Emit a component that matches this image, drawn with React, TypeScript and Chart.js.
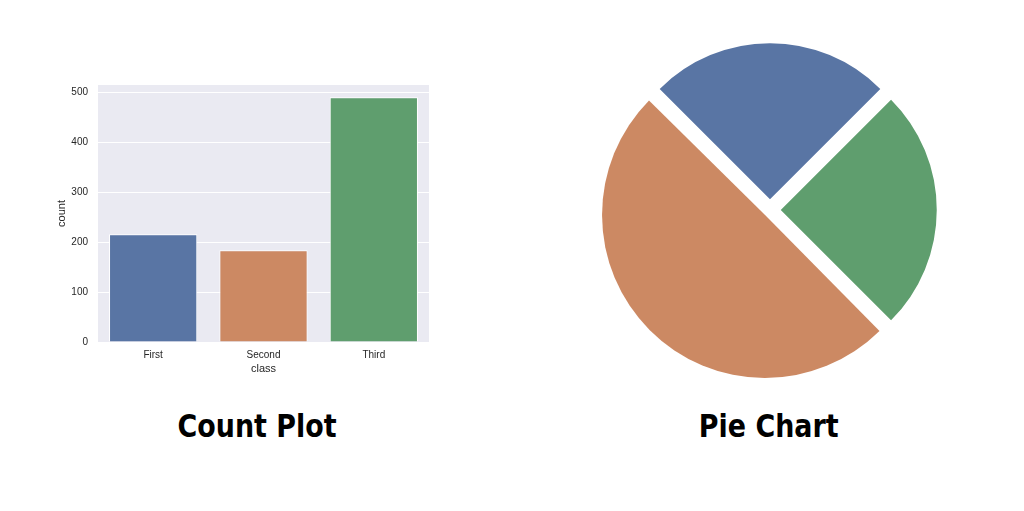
import React, { useEffect, useRef } from "react";
import { Chart, registerables } from "chart.js";

Chart.register(...registerables);

// ---- data ----
const classLabels = ["First", "Second", "Third"];
const classCounts = [216, 184, 491];
const yTickValues = [0, 100, 200, 300, 400, 500];
const yMax = 515.5;

const pieLabels = ["First", "Third", "Second"];
const pieValues = [25, 25, 50];
const pieOffsets = [43, 43, 28];

// ---- styles ----
const BLUE = "#5975a4";
const ORANGE = "#cc8963";
const GREEN = "#5f9e6e";
const barColors = [BLUE, ORANGE, GREEN];
const pieColors = [BLUE, GREEN, ORANGE];
const TEXT = "#262626";
const FONT = "'Liberation Sans', Arial, Helvetica, sans-serif";

const plotBg = {
  id: "plotBg",
  beforeDraw(chart: any) {
    const { ctx, chartArea: a } = chart;
    ctx.save();
    ctx.fillStyle = "#eaeaf2";
    ctx.fillRect(a.left, a.top, a.right - a.left, a.bottom - a.top);
    ctx.restore();
  },
};

function CountPlot() {
  const ref = useRef<HTMLCanvasElement | null>(null);
  useEffect(() => {
    const chart = new Chart(ref.current as HTMLCanvasElement, {
      type: "bar",
      data: {
        labels: classLabels,
        datasets: [
          {
            data: classCounts,
            backgroundColor: barColors,
            borderColor: "#ffffff",
            borderWidth: 1,
            barPercentage: 0.8,
            categoryPercentage: 1,
          },
        ],
      },
      options: {
        animation: false,
        responsive: false,
        maintainAspectRatio: false,
        layout: { padding: { left: 40, top: 85, right: 83, bottom: 18 } },
        plugins: { legend: { display: false }, tooltip: { enabled: false } },
        scales: {
          x: {
            grid: { display: false, drawTicks: false },
            border: { display: false },
            ticks: { color: TEXT, font: { size: 10, family: FONT }, padding: 7 },
            title: {
              display: true,
              text: "class",
              color: TEXT,
              font: { size: 11, family: FONT },
              padding: { top: 0, bottom: 6 },
            },
            afterFit(s: any) {
              s.height = 40;
            },
          },
          y: {
            min: 0,
            max: yMax,
            afterBuildTicks(s: any) {
              s.ticks = yTickValues.map((v) => ({ value: v }));
            },
            grid: { color: "#ffffff", lineWidth: 1, drawTicks: false },
            border: { display: false },
            ticks: { color: TEXT, font: { size: 10, family: FONT }, padding: 10 },
            title: {
              display: true,
              text: "count",
              color: TEXT,
              font: { size: 11, family: FONT },
              padding: { top: 15, bottom: 0 },
            },
            afterFit(s: any) {
              s.width = 58;
            },
          },
        },
      },
      plugins: [plotBg],
    } as any);
    return () => chart.destroy();
  }, []);
  return (
    <canvas
      ref={ref}
      width={512}
      height={400}
      style={{ position: "absolute", left: 0, top: 0, width: 512, height: 400 }}
    />
  );
}

function PieChart() {
  const ref = useRef<HTMLCanvasElement | null>(null);
  useEffect(() => {
    const chart = new Chart(ref.current as HTMLCanvasElement, {
      type: "pie",
      data: {
        labels: pieLabels,
        datasets: [
          {
            data: pieValues,
            backgroundColor: pieColors,
            borderColor: pieColors,
            borderWidth: 0,
            offset: pieOffsets,
          },
        ],
      },
      options: {
        animation: false,
        responsive: false,
        maintainAspectRatio: false,
        radius: 156,
        rotation: -45,
        layout: { padding: 0 },
        plugins: { legend: { display: false }, tooltip: { enabled: false } },
      },
    } as any);
    return () => chart.destroy();
  }, []);
  return (
    <canvas
      ref={ref}
      width={360}
      height={360}
      style={{ position: "absolute", left: 590, top: 30, width: 360, height: 360 }}
    />
  );
}

const titleStyle: React.CSSProperties = {
  position: "absolute",
  width: 300,
  textAlign: "center",
  fontFamily: "'DejaVu Sans Condensed', 'DejaVu Sans', sans-serif",
  fontStretch: "condensed",
  fontWeight: 700,
  fontSize: 32,
  lineHeight: "32px",
  color: "#000",
  whiteSpace: "nowrap",
  top: 410,
};

const spanStyle: React.CSSProperties = {
  display: "inline-block",
  transform: "scaleX(0.935)",
  transformOrigin: "center",
};

export default function App() {
  return (
    <div
      style={{
        position: "absolute",
        left: 0,
        top: 0,
        width: 1024,
        height: 511,
        background: "#ffffff",
        overflow: "hidden",
      }}
    >
      <CountPlot />
      <PieChart />
      <div style={{ ...titleStyle, left: 257 - 150 }}>
        <span style={spanStyle}>Count Plot</span>
      </div>
      <div style={{ ...titleStyle, left: 769 - 150 }}>
        <span style={spanStyle}>Pie Chart</span>
      </div>
    </div>
  );
}
